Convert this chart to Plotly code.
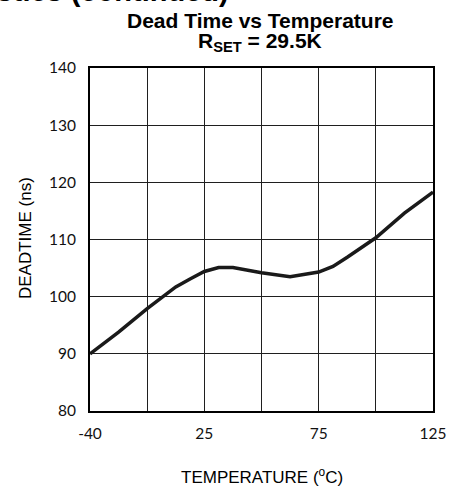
import plotly.graph_objects as go

# Category positions along the x axis (grid divisions) and dead time values (ns)
x_pos = [0, 0.5, 1.0, 1.3, 1.5, 1.75, 2.0, 2.25, 2.5, 3.0, 3.5, 4.0, 4.25, 4.5, 5.0, 5.5, 6.0]
deadtime_ns = [90.0, 93.8, 97.9, 100.2, 101.7, 103.1, 104.4, 105.1, 105.1, 104.2, 103.5, 104.3, 105.3, 106.9, 110.3, 114.6, 118.3]

x_tick_vals = [0, 1, 2, 3, 4, 5, 6]
x_tick_text = ["-40", " ", "25", " ", "75", " ", "125"]
y_tick_vals = [80, 90, 100, 110, 120, 130, 140]

fig = go.Figure()
fig.add_trace(go.Scatter(x=x_pos, y=deadtime_ns, mode="lines",
                         line=dict(color="#1a1a1a", width=3.5), showlegend=False))

W, H = 451, 489
L, R, T, B = 90, 18, 68, 78
pw = W - L - R
ph = H - T - B

def px_x(p):
    return (p - L) / pw

def px_y(p):
    return (H - B - p) / ph

fig.update_layout(
    width=W, height=H,
    margin=dict(l=L, r=R, t=T, b=B, autoexpand=False),
    paper_bgcolor="white", plot_bgcolor="white",
    font=dict(family="Liberation Sans, Arial, sans-serif", color="black"),
    xaxis=dict(range=[0, 6], tickvals=x_tick_vals, ticktext=x_tick_text,
               showgrid=True, gridcolor="#1f1f1f", gridwidth=1,
               showline=True, linecolor="black", linewidth=2, mirror=True,
               zeroline=False, ticks="", ticklabelstandoff=7,
               tickfont=dict(family="Lato, sans-serif", size=15.5, color="#111")),
    yaxis=dict(range=[80, 140], tickvals=y_tick_vals,
               showgrid=True, gridcolor="#1f1f1f", gridwidth=1,
               showline=True, linecolor="black", linewidth=2, mirror=True,
               zeroline=False, ticks="", ticklabelstandoff=9,
               tickfont=dict(family="Lato, sans-serif", size=15.5, color="#111")),
)

ann = []
ann.append(dict(text="<b>Typical Performance Characteristics (continued)</b>",
                xref="paper", yref="paper", x=px_x(231), y=px_y(-9),
                xanchor="right", yanchor="middle", showarrow=False,
                font=dict(family="Liberation Sans, Arial", size=29, color="black")))
ann.append(dict(text="<b>Dead Time vs Temperature</b>",
                xref="paper", yref="paper", x=px_x(260), y=px_y(20.6),
                xanchor="center", yanchor="middle", showarrow=False,
                font=dict(family="Liberation Sans, Arial", size=21, color="black")))
ann.append(dict(text="<b>R<sub>SET</sub> = 29.5K</b>",
                xref="paper", yref="paper", x=px_x(260), y=px_y(42),
                xanchor="center", yanchor="middle", showarrow=False,
                font=dict(family="Liberation Sans, Arial", size=21, color="black")))
ann.append(dict(text="DEADTIME (ns)", textangle=-90,
                xref="paper", yref="paper", x=px_x(25), y=px_y(238),
                xanchor="center", yanchor="middle", showarrow=False,
                font=dict(family="Liberation Sans, Arial", size=17, color="black")))
ann.append(dict(text="TEMPERATURE (<sup>o</sup>C)",
                xref="paper", yref="paper", x=px_x(261.5), y=px_y(476),
                xanchor="center", yanchor="middle", showarrow=False,
                font=dict(family="Liberation Sans, Arial", size=17, color="black")))
fig.update_layout(annotations=ann)

fig.write_html("out.html",
               config={"displayModeBar": False},
               post_script="document.body.style.margin='0';document.body.style.padding='0';")
